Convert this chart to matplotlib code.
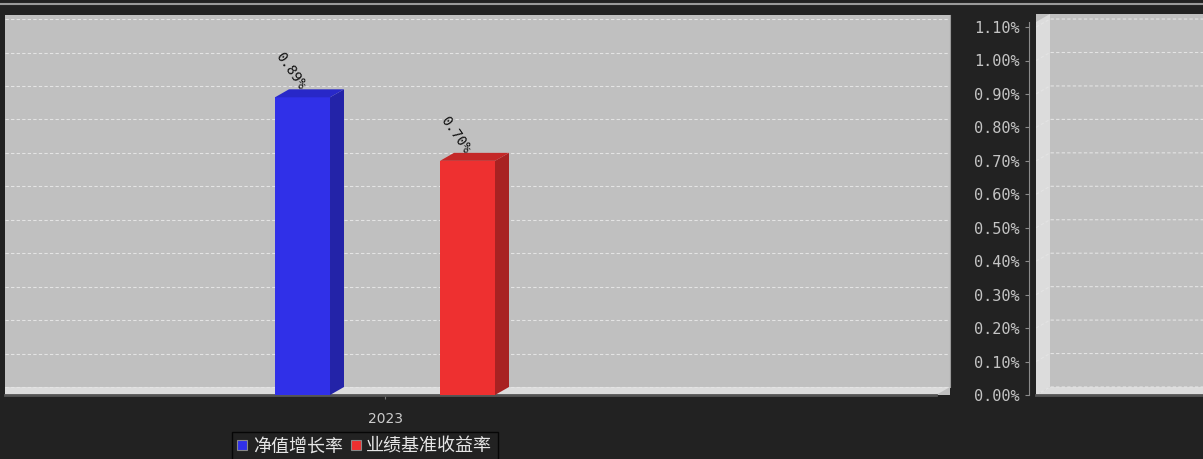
import numpy as np
import matplotlib.pyplot as plt
from matplotlib.patches import Polygon, Rectangle, Patch
from matplotlib.lines import Line2D

plt.rcParams['font.family'] = ['Noto Sans CJK SC', 'DejaVu Sans']

# data
years = ['2023']
series = ['净值增长率', '业绩基准收益率']
values = [0.89, 0.70]
front_colors = ['#3030e8', '#ee3030']
side_colors = ['#2323a8', '#a82222']
top_colors = ['#2828c8', '#c42828']
yticks = np.round(np.arange(0, 1.11, 0.1), 2)
ytick_labels = [f'{v:.2f}%' for v in yticks]

W, H = 1203, 459
fig = plt.figure(figsize=(W / 100, H / 100), dpi=100, facecolor='#222222')


def px_box(x0, y0, x1, y1):
    # pixel box (origin top-left) -> figure fraction
    return [x0 / W, (H - y1) / H, (x1 - x0) / W, (y1 - y0) / H]


PX_X = 330.0   # pixels per category unit
PX_Y = 334.5   # pixels per 1 %
DX, DY = 14 / PX_X, 8 / PX_Y  # 3d depth
wall = '#dcdcdc'
back = '#c0c0c0'
grid_c = '#e4e4e4'

# ---- left panel (bars)
ax = fig.add_axes(px_box(5, 15, 950, 395))
ax.set_facecolor(back)
xmin, xmax = (5 - 385) / PX_X, (950 - 385) / PX_X
ax.set_xlim(xmin, xmax)
ax.set_ylim(0, 380 / PX_Y)
front_end = xmax - DX

# floor
ax.add_patch(Polygon([(xmin, 0), (front_end, 0), (xmax, DY), (xmin, DY)],
                     closed=True, facecolor=wall, edgecolor='none', zorder=1))
# grid on back wall
for v in yticks:
    ax.plot([xmin, xmax], [v + DY, v + DY], color=grid_c, lw=0.8,
            ls=(0, (3, 2)), zorder=1.5)

bar_w = 55 / PX_X
offsets = [-0.25, 0.25]
for i, (v, off) in enumerate(zip(values, offsets)):
    x0 = 0 + off - bar_w / 2
    x1 = x0 + bar_w
    ax.add_patch(Rectangle((x0, 0), bar_w, v, facecolor=front_colors[i],
                           edgecolor='none', zorder=3))
    ax.add_patch(Polygon([(x1, 0), (x1 + DX, DY), (x1 + DX, v + DY), (x1, v)],
                         closed=True, facecolor=side_colors[i],
                         edgecolor='none', zorder=3))
    ax.add_patch(Polygon([(x0, v), (x0 + DX, v + DY), (x1 + DX, v + DY), (x1, v)],
                         closed=True, facecolor=top_colors[i],
                         edgecolor='none', zorder=3))
    ax.text(off, v + 9 / PX_Y, f'{v:.2f}%', rotation=-55, rotation_mode='anchor',
            ha='right', va='center', fontsize=10, color='#111111',
            family='DejaVu Sans Mono', zorder=4)

for s in ['top', 'left']:
    ax.spines[s].set_visible(False)
ax.spines['right'].set_color('#9a9a9a')
ax.spines['right'].set_bounds(DY, 380 / PX_Y)
ax.spines['bottom'].set_color('#555555')
ax.spines['bottom'].set_linewidth(2)
ax.spines['bottom'].set_bounds(xmin, front_end)
ax.set_yticks([])
ax.set_xticks([0])
ax.set_xticklabels(years, family='DejaVu Sans', fontsize=10, color='#cccccc')
ax.tick_params(axis='x', length=3, color='#777777', pad=9)

# ---- right panel (axis)
ax2 = fig.add_axes(px_box(1036, 14, 1260, 395))
ax2.set_facecolor(back)
rxmax = 224 / PX_X
rtop = 381 / PX_Y
ax2.set_xlim(0, rxmax)
ax2.set_ylim(0, rtop)
ax2.add_patch(Polygon([(0, 0), (DX, DY), (DX, rtop), (0, rtop - DY)],
                      closed=True, facecolor=wall, edgecolor='none', zorder=1))
ax2.add_patch(Polygon([(0, 0), (rxmax, 0), (rxmax, DY), (DX, DY)],
                      closed=True, facecolor=wall, edgecolor='none', zorder=1))
for v in yticks:
    ax2.plot([0, DX, rxmax], [v, v + DY, v + DY], color=grid_c, lw=0.8,
             ls=(0, (3, 2)), zorder=1.5)
for s in ['top', 'right']:
    ax2.spines[s].set_visible(False)
ax2.spines['bottom'].set_color('#555555')
ax2.spines['bottom'].set_linewidth(2)
ax2.spines['left'].set_position(('outward', 5))
ax2.spines['left'].set_color('#8a8a8a')
ax2.spines['left'].set_bounds(0, rtop - DY)
ax2.set_xticks([])
ax2.set_yticks(yticks)
ax2.set_yticklabels(ytick_labels, family='DejaVu Sans Mono', fontsize=11,
                    color='#c4c4c4')
ax2.tick_params(axis='y', length=3, color='#8a8a8a', pad=4)

# top strip line
fig.add_artist(Line2D([0, 1], [1 - 3.5 / H, 1 - 3.5 / H], color='#9a9a9a', lw=1.5))

# legend
handles = [Patch(facecolor=c, edgecolor='#888888', lw=0.8) for c in front_colors]
leg = fig.legend(handles, series, loc='upper left',
                 bbox_to_anchor=(232 / W, 1 - 432 / H), ncol=2, frameon=True,
                 fancybox=False, facecolor='#222222', edgecolor='#000000',
                 fontsize=13, labelcolor='#e6e6e6', borderpad=0.3,
                 handlelength=0.55, handleheight=0.55, handletextpad=0.3,
                 columnspacing=0.45, borderaxespad=0)

fig.savefig('out.png', dpi=100, facecolor=fig.get_facecolor())
